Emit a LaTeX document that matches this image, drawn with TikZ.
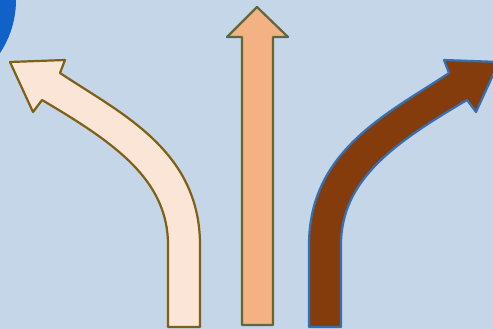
\documentclass[tikz,border=0pt]{standalone}
\usepackage{xcolor}
\usepackage{tikz}
\usetikzlibrary{calc}
\definecolor{bgblue}{RGB}{197, 214, 233}
\definecolor{discblue}{RGB}{16, 98, 200}
\definecolor{peachL}{RGB}{251, 229, 214}
\definecolor{peachLD}{RGB}{127, 96, 20}
\definecolor{salmon}{RGB}{244, 177, 131}
\definecolor{salmonD}{RGB}{94, 104, 58}
\definecolor{rust}{RGB}{132, 60, 12}
\definecolor{rustD}{RGB}{52, 112, 180}
\tikzset{
  arrowshape/.style={fill=#1, draw=#1D, line width=2.2pt, line join=round},
}

\begin{document}
\begin{tikzpicture}[x=1pt, y=-1pt]

% background and frame
\fill[bgblue] (0,0) rectangle (493,329);
\useasboundingbox (0,0) rectangle (493,329);
\begin{scope}
  \clip (0,0) rectangle (493,329);
  % corner disc
  \fill[discblue] (-80,0) circle[radius=96];

  % ===================== left: bend to the left ==================
  \draw[arrowshape=peachL]
    (200,327) -- (200,245) .. controls (200,150) and (120,113) .. (60,73)
    -- (65,60) -- (10,62) -- (33,112) -- (42,100)
    .. controls (115,143) and (168,180) .. (168,245) -- (168,327) -- cycle;

  % ===================== middle: straight on ==================
  \draw[arrowshape=salmon]
    (273,325) -- (273,37) -- (288,37) -- (257,7) -- (227,37)
    -- (242,37) -- (242,325) -- cycle;

  % ===================== right: bend to the right ==================
  \draw[arrowshape=rust]
    (309,327) -- (309,245) .. controls (309,150) and (389,113) .. (449,73)
    -- (444,60) -- (499,62) -- (476,112) -- (467,100)
    .. controls (394,143) and (341,180) .. (341,245) -- (341,327) -- cycle;
\end{scope}

\end{tikzpicture}
\end{document}
